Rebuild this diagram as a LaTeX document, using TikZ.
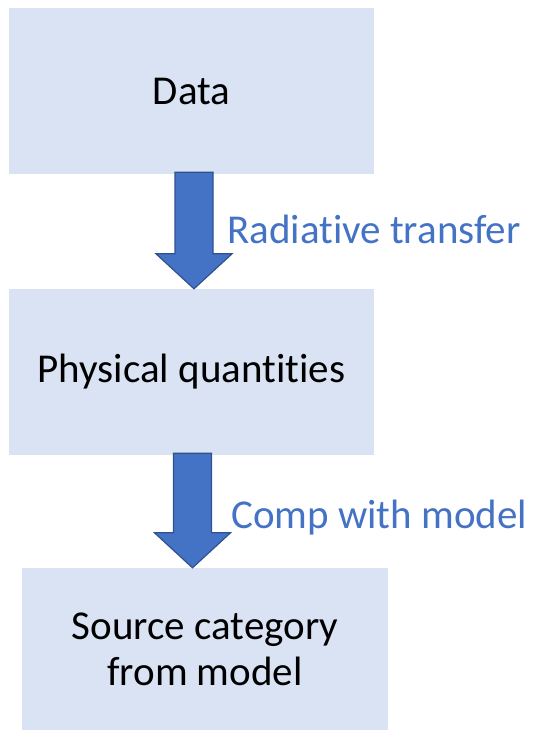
\documentclass[tikz,border=0pt]{standalone}
\usepackage{fontspec}
\setmainfont{Carlito}[Ligatures=NoCommon]
\usetikzlibrary{calc}

\definecolor{boxfill}{HTML}{DAE3F3}
\definecolor{arrowfill}{HTML}{4472C4}
\definecolor{arrowline}{HTML}{2F528F}

\tikzset{
  stage/.style={fill=boxfill, minimum width=365pt, inner sep=0pt,
    align=center, font=\fontsize{41}{46}\selectfont},
  steplabel/.style={anchor=base west, inner sep=0pt, text=arrowfill,
    font=\fontsize{41}{46}\selectfont},
  % block arrow from the start point straight down to the target
  fatarrow/.style={fill=arrowfill, draw=arrowline, line width=1.2pt,
    line join=miter,
    to path={let \p1=(\tikztostart), \p2=(\tikztotarget) in
      (\x1-19pt,\y1) -- (\x1+19pt,\y1) -- (\x1+19pt,\y2+35pt)
      -- (\x1+38pt,\y2+35pt) -- (\x1,\y2) -- (\x1-38pt,\y2+35pt)
      -- (\x1-19pt,\y2+35pt) -- cycle}}
}

\begin{document}
\begin{tikzpicture}[x=1pt,y=1pt]
\useasboundingbox (0,0) rectangle (533,-730);

\node[stage, minimum height=166pt] (data) at (191.5,-91) {Data};
\node[stage, minimum height=166pt] (phys) at (191.5,-372) {Physical quantities};
\node[stage, minimum width=366pt, minimum height=162pt] (source) at (205,-649)
  {Source category\\from model};

% arrows between the stages
\coordinate (t1) at ($(data.south)+(2.5,2)$);
\coordinate (t2) at ($(phys.south)+(1,2)$);
\draw[fatarrow] (t1) to (t1 |- phys.north);
\draw[fatarrow] (t2) to (t2 |- source.north);

\node[steplabel] (rt) at (227,-243) {Radiative transfer};
\node[steplabel] (cm) at (231,-528) {Comp with model};
\end{tikzpicture}
\end{document}
